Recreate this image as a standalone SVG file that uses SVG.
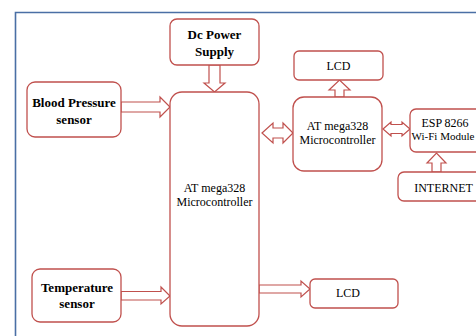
<svg xmlns="http://www.w3.org/2000/svg" width="476" height="336" viewBox="0 0 476 336">
<style>
.box{fill:#fff;stroke:#c0504d;stroke-width:1.3}
.arr{fill:#fff;stroke:#c0504d;stroke-width:1.2;stroke-linejoin:miter}
.b{font-family:"Liberation Serif",serif;font-weight:bold;font-size:13px;fill:#000;text-anchor:middle}
.n{font-family:"Liberation Serif",serif;font-size:12px;fill:#000;text-anchor:middle}
</style>
<rect width="476" height="336" fill="#fff"/>
<path d="M15.5,340 V12.5 H480" fill="none" stroke="#4a6fa5" stroke-width="1.6"/>
<g id="connectors">
<polygon class="arr" points="209,65 220,65 220,83 225,83 214.5,92 204,83 209,83"/>
<polygon class="arr" points="121,102 160,102 160,97 170,107 160,117 160,112 121,112"/>
<polygon class="arr" points="121,291.5 161,291.5 161,287 170,296 161,304 161,300 121,300"/>
<polygon class="arr" points="259,285 301,285 301,281 310,289 301,297 301,293 259,293"/>
<polygon class="arr" points="262,133 273,123 273,128 283,128 283,123 293,133 283,143 283,138 273,138 273,143"/>
<polygon class="arr" points="383,129 391,122 391,124.5 402,124.5 402,122 410,129 402,136 402,133.5 391,133.5 391,136"/>
<polygon class="arr" points="335,97 335,90 329,90 339.5,80 350,90 344,90 344,97"/>
<polygon class="arr" points="432,172 432,163 427,163 436.5,153 446,163 441,163 441,172"/>
</g>
<g id="power">
<rect class="box" x="170" y="19" width="89" height="46" rx="7"/>
<text class="b" x="214.5" y="39">Dc Power</text>
<text class="b" x="214.5" y="56">Supply</text>
</g>
<g id="bp">
<rect class="box" x="27" y="82" width="94" height="55" rx="8"/>
<text class="b" x="74" y="107">Blood Pressure</text>
<text class="b" x="74" y="124">sensor</text>
</g>
<g id="temp">
<rect class="box" x="32" y="269" width="89" height="53" rx="8"/>
<text class="b" x="77" y="292">Temperature</text>
<text class="b" x="77" y="308">sensor</text>
</g>
<g id="mcu1">
<rect class="box" x="170" y="92" width="89" height="234" rx="12"/>
<text class="n" x="214.5" y="192">AT mega328</text>
<text class="n" x="214.5" y="206">Microcontroller</text>
</g>
<g id="mcu2">
<rect class="box" x="293" y="97" width="89" height="74" rx="11"/>
<text class="n" x="337.5" y="130">AT mega328</text>
<text class="n" x="337.5" y="144">Microcontroller</text>
</g>
<g id="lcd1">
<rect class="box" x="294" y="51" width="89" height="29" rx="5"/>
<text class="n" x="338.5" y="70">LCD</text>
</g>
<g id="esp">
<rect class="box" x="410" y="109" width="72" height="43" rx="6"/>
<text class="n" x="445" y="127">ESP 8266</text>
<text class="n" x="443" y="140" style="font-size:11px">Wi-Fi Module</text>
</g>
<g id="internet">
<rect class="box" x="398" y="172" width="84" height="29" rx="6"/>
<text class="n" x="443.5" y="192">INTERNET</text>
</g>
<g id="lcd2">
<rect class="box" x="310" y="279" width="88" height="29" rx="5"/>
<text class="n" x="348" y="297">LCD</text>
</g>
</svg>
